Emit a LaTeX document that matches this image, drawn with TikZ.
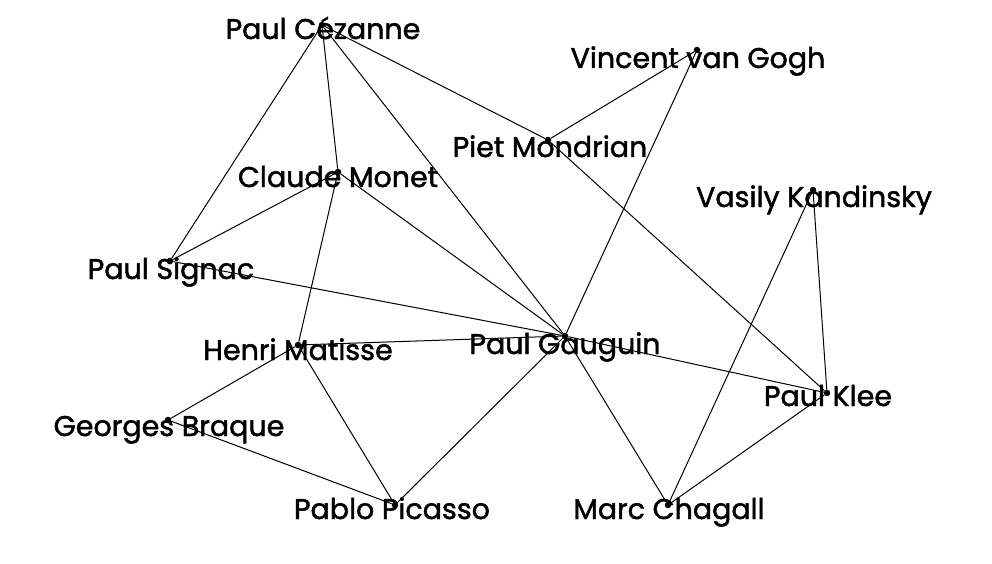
\documentclass[tikz,border=0pt]{standalone}
\usepackage{fontspec}
\setmainfont{Poppins}[FakeBold=1.6, AutoFakeBold=1.6]
\usetikzlibrary{shapes}

\begin{document}
\begin{tikzpicture}[x=1pt, y=-1pt]
      % fix the frame to the size of the original picture
      \path[use as bounding box] (0,0) rectangle (992,564);
      \tikzstyle{pdot} = [circle, fill, inner sep=0pt, minimum size=6.5pt]
      \tikzstyle{painter} = [anchor=base, inner sep=0pt, font=\fontsize{28.5}{32}\selectfont\bfseries]
      \tikzstyle{line} = [draw, line width=1pt]
        % the painters
        \node [pdot] (cezanne) at (322,25) {};
        \node [pdot] (gogh) at (697,50) {};
        \node [pdot] (mondrian) at (548,140) {};
        \node [pdot] (monet) at (338,172) {};
        \node [pdot] (kandinsky) at (813,190) {};
        \node [pdot] (signac) at (170,261) {};
        \node [pdot] (matisse) at (298,345) {};
        \node [pdot] (gauguin) at (565,336) {};
        \node [pdot] (klee) at (827,393) {};
        \node [pdot] (braque) at (168,420) {};
        \node [pdot] (picasso) at (395,505) {};
        \node [pdot] (chagall) at (668,505) {};
        % their names
        \node [painter] (cezannetxt) at (323,39) {Paul Cézanne};
        \node [painter] (goghtxt) at (698,68) {Vincent van Gogh};
        \node [painter] (mondriantxt) at (550,157) {Piet Mondrian};
        \node [painter] (monettxt) at (338,187) {Claude Monet};
        \node [painter] (kandinskytxt) at (814,207) {Vasily Kandinsky};
        \node [painter] (signactxt) at (171,279) {Paul Signac};
        \node [painter] (matissetxt) at (298,360) {Henri Matisse};
        \node [painter] (gauguintxt) at (565,354) {Paul Gauguin};
        \node [painter] (kleetxt) at (828,406) {Paul Klee};
        \node [painter] (braquetxt) at (169,436) {Georges Braque};
        \node [painter] (picassotxt) at (392,519) {Pablo Picasso};
        \node [painter] (chagalltxt) at (669,519) {Marc Chagall};
        % influences
        \path [line] (cezanne) -- (monet);
        \path [line] (cezanne) -- (signac);
        \path [line] (cezanne) -- (gauguin);
        \path [line] (cezanne) -- (mondrian);
        \path [line] (mondrian) -- (gogh);
        \path [line] (mondrian) -- (klee);
        \path [line] (gogh) -- (gauguin);
        \path [line] (monet) -- (signac);
        \path [line] (monet) -- (matisse);
        \path [line] (monet) -- (gauguin);
        \path [line] (signac) -- (gauguin);
        \path [line] (matisse) -- (gauguin);
        \path [line] (matisse) -- (braque);
        \path [line] (matisse) -- (picasso);
        \path [line] (braque) -- (picasso);
        \path [line] (gauguin) -- (picasso);
        \path [line] (gauguin) -- (chagall);
        \path [line] (gauguin) -- (klee);
        \path [line] (kandinsky) -- (klee);
        \path [line] (kandinsky) -- (chagall);
        \path [line] (chagall) -- (klee);
      \end{tikzpicture}
\end{document}
